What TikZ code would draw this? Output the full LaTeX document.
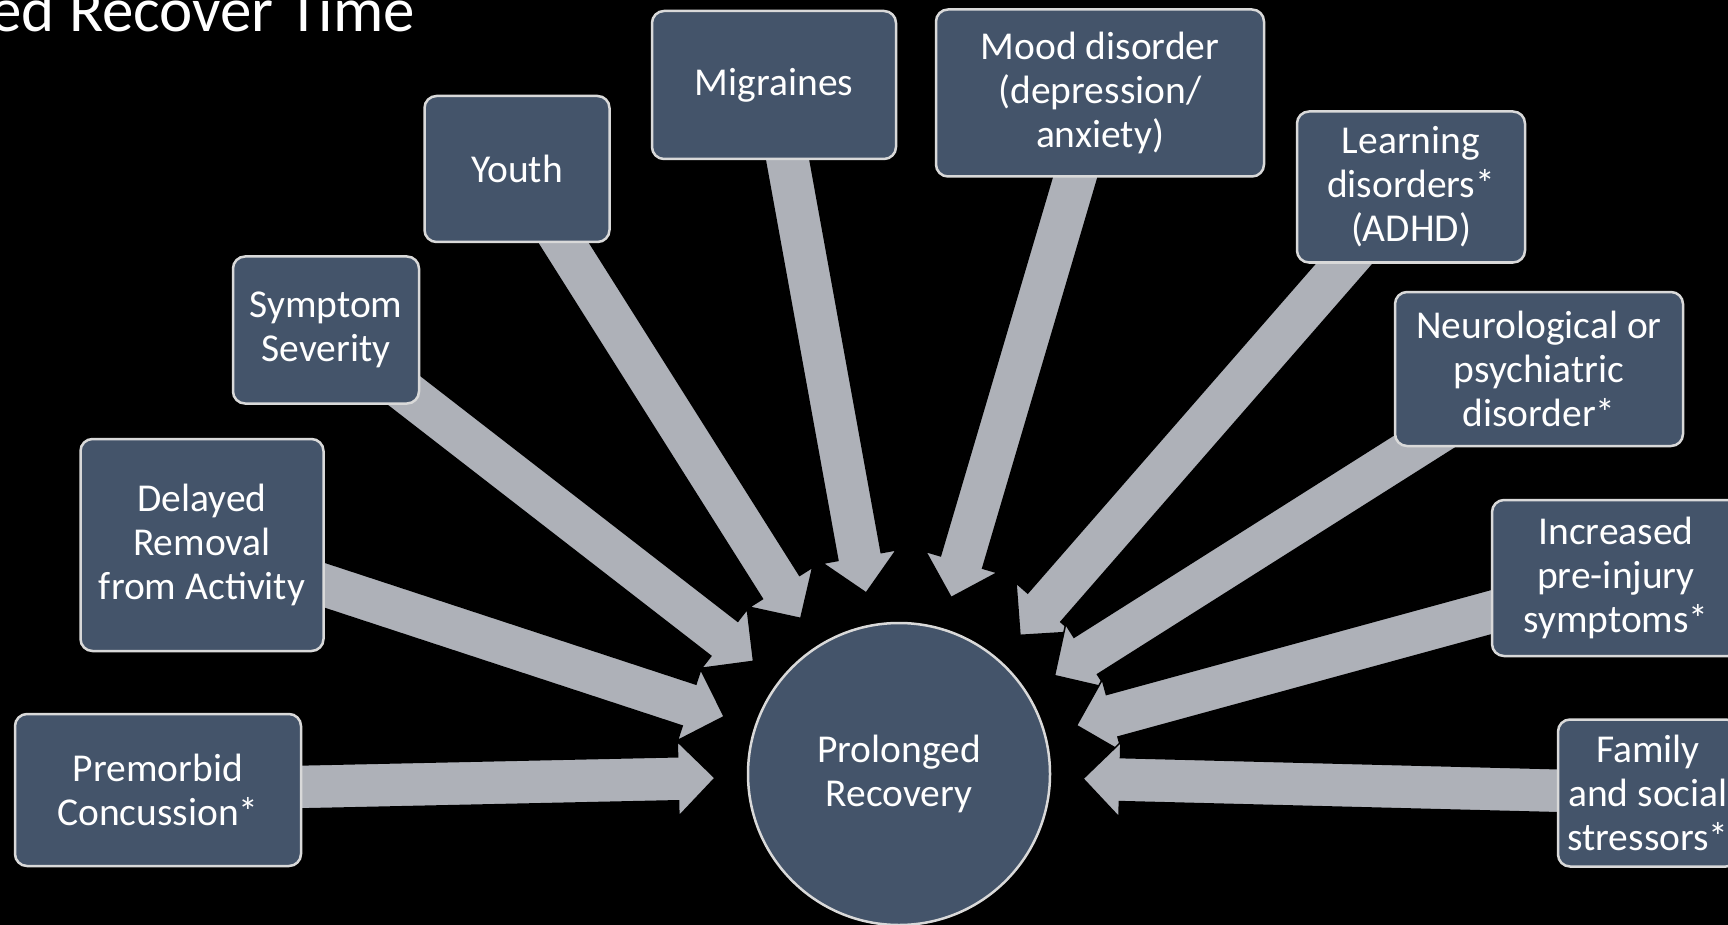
\documentclass[tikz,border=0pt]{standalone}
\usepackage{fontspec}
\setmainfont{Carlito}
\usetikzlibrary{calc,backgrounds}

\definecolor{boxfill}{HTML}{44546A}
\definecolor{boxline}{HTML}{D9D9D9}
\definecolor{arrowgray}{HTML}{AEB1B8}

% Block arrow from the centre of a factor box towards the central circle.
% The tip stops 184pt from the circle's centre; the shaft starts under the box.
\newcommand{\feedarrow}[1]{%
  \coordinate (arrowtip) at ($(circ.center)!184pt!(#1.center)$);
  \coordinate (arrowbase) at ($(arrowtip)!37pt!(#1.center)$);
  \filldraw[feeder]
    ($(#1.center)!22pt!90:(arrowtip)$) --
    ($(arrowbase)!22pt!90:(arrowtip)$) --
    ($(arrowbase)!37.5pt!90:(arrowtip)$) --
    (arrowtip) --
    ($(arrowbase)!37.5pt!-90:(arrowtip)$) --
    ($(arrowbase)!22pt!-90:(arrowtip)$) --
    ($(#1.center)!22pt!-90:(arrowtip)$) -- cycle;
}

\begin{document}
\begin{tikzpicture}[x=1pt,y=-1pt,
  factor/.style={rectangle, rounded corners=12pt, fill=boxfill, draw=boxline,
    line width=2.5pt, text=white, align=center, inner sep=0pt,
    font=\fontsize{39.5}{44}\selectfont},
  hub/.style={circle, fill=boxfill, draw=boxline, line width=2.5pt,
    text=white, align=center, inner sep=0pt, minimum size=302pt,
    font=\fontsize{39.5}{44}\selectfont},
  feeder/.style={fill=arrowgray, draw=black, line width=1.5pt, line join=miter},
  heading/.style={text=white, inner sep=0pt, font=\fontsize{63}{68}\selectfont}]

\useasboundingbox (0,0) rectangle (1728,925);

% title
\node[heading, anchor=base east] (title) at (415,32) {ed Recover Time};

% central outcome
\node[hub] (circ) at (899,774) {Prolonged\\Recovery};

% contributing factors
\node[factor, minimum width=286pt, minimum height=152pt] (prem)  at (158,790)  {Premorbid\\Concussion*};
\node[factor, minimum width=243pt, minimum height=212pt] (delay) at (202,545)  {Delayed\\Removal\\from Activity};
\node[factor, minimum width=186pt, minimum height=147pt] (sympt) at (326,330)  {Symptom\\Severity};
\node[factor, minimum width=185pt, minimum height=146pt] (youth) at (517,169)  {Youth};
\node[factor, minimum width=244pt, minimum height=148pt] (migr)  at (774,85)   {Migraines};
\node[factor, minimum width=328pt, minimum height=167pt] (mood)  at (1100,93)  {Mood disorder\\(depression/\\anxiety)};
\node[factor, minimum width=228pt, minimum height=151pt] (learn) at (1411,187) {Learning\\disorders*\\(ADHD)};
\node[factor, minimum width=288pt, minimum height=154pt] (neuro) at (1539,369) {Neurological or\\psychiatric\\disorder*};
\node[factor, minimum width=248pt, minimum height=156pt] (incr)  at (1616,578) {Increased\\pre-injury\\symptoms*};
\node[factor, minimum width=180pt, minimum height=147pt] (fam)   at (1648,793) {Family\\and social\\stressors*};

\begin{scope}[on background layer]
  \fill[black] (0,0) rectangle (1728,925);
  \feedarrow{prem}
  \feedarrow{delay}
  \feedarrow{sympt}
  \feedarrow{youth}
  \feedarrow{migr}
  \feedarrow{mood}
  \feedarrow{learn}
  \feedarrow{neuro}
  \feedarrow{incr}
  \feedarrow{fam}
\end{scope}
\end{tikzpicture}
\end{document}
